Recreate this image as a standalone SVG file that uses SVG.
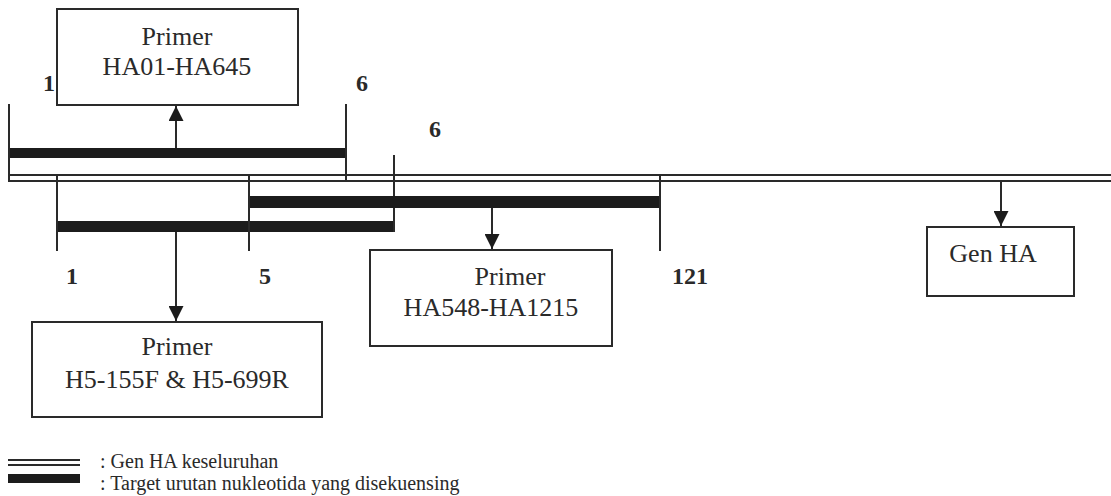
<svg xmlns="http://www.w3.org/2000/svg" width="1111" height="496" viewBox="0 0 1111 496">
<style>
.box{fill:#fff;stroke:#2a2a2a;stroke-width:2}
.t{font-family:"Liberation Serif","Times New Roman",serif;font-size:26px;fill:#2a2a2a;text-anchor:middle}
.n{font-family:"Liberation Serif","Times New Roman",serif;font-size:24px;font-weight:bold;fill:#2a2a2a}
.lg{font-family:"Liberation Serif","Times New Roman",serif;font-size:20px;fill:#2a2a2a}
.ln{stroke:#2a2a2a;stroke-width:2;fill:none}
.bar{fill:#1c1c1c}
</style>
<defs>
<marker id="ah" viewBox="0 0 10 10" refX="10" refY="5" markerWidth="16" markerHeight="15" markerUnits="userSpaceOnUse" orient="auto">
<path d="M0,0 L10,5 L0,10 z" fill="#1c1c1c"/>
</marker>
</defs>
<rect width="1111" height="496" fill="#fff"/>
<g id="gene">
<line class="ln" x1="9" y1="175" x2="1111" y2="175"/>
<line class="ln" x1="9" y1="181" x2="1111" y2="181"/>
</g>
<g id="segment-1">
<rect class="bar" x="9" y="148" width="337" height="10"/>
<line class="ln" x1="9" y1="104" x2="9" y2="182"/>
<line class="ln" x1="346" y1="104" x2="346" y2="182"/>
<text class="n" x="43" y="91">1</text>
<text class="n" x="356" y="91">6</text>
</g>
<g id="segment-2">
<rect class="bar" x="57" y="221" width="337" height="11"/>
<line class="ln" x1="57" y1="175" x2="57" y2="251"/>
<line class="ln" x1="394" y1="155" x2="394" y2="232"/>
<text class="n" x="66" y="284">1</text>
<text class="n" x="429" y="137">6</text>
</g>
<g id="segment-3">
<rect class="bar" x="249" y="196" width="411" height="12"/>
<line class="ln" x1="249" y1="175" x2="249" y2="251"/>
<line class="ln" x1="660" y1="175" x2="660" y2="251"/>
<text class="n" x="259" y="284">5</text>
<text class="n" x="672" y="284">121</text>
</g>
<g id="connectors">
<line class="ln" x1="176" y1="148" x2="176" y2="106" marker-end="url(#ah)"/>
<line class="ln" x1="176" y1="232" x2="176" y2="321" marker-end="url(#ah)"/>
<line class="ln" x1="492" y1="208" x2="492" y2="249" marker-end="url(#ah)"/>
<line class="ln" x1="1001" y1="181" x2="1001" y2="226" marker-end="url(#ah)"/>
</g>
<g id="box-ha01">
<rect class="box" x="57" y="9" width="241" height="96"/>
<text class="t" x="177" y="45">Primer</text>
<text class="t" x="177" y="75">HA01-HA645</text>
</g>
<g id="box-h5">
<rect class="box" x="32" y="322" width="290" height="95"/>
<text class="t" x="177" y="355">Primer</text>
<text class="t" x="177" y="388">H5-155F &amp; H5-699R</text>
</g>
<g id="box-ha548">
<rect class="box" x="370" y="250" width="242" height="96"/>
<text class="t" x="510" y="285">Primer</text>
<text class="t" x="491" y="316">HA548-HA1215</text>
</g>
<g id="box-genha">
<rect class="box" x="927" y="227" width="147" height="69"/>
<text class="t" x="993" y="262">Gen HA</text>
</g>
<g id="legend">
<line class="ln" x1="8" y1="460" x2="80" y2="460"/>
<line class="ln" x1="8" y1="465" x2="80" y2="465"/>
<rect class="bar" x="8" y="474" width="72" height="9"/>
<text class="lg" x="100" y="468">: Gen HA keseluruhan</text>
<text class="lg" x="100" y="490">: Target urutan nukleotida yang disekuensing</text>
</g>
</svg>
